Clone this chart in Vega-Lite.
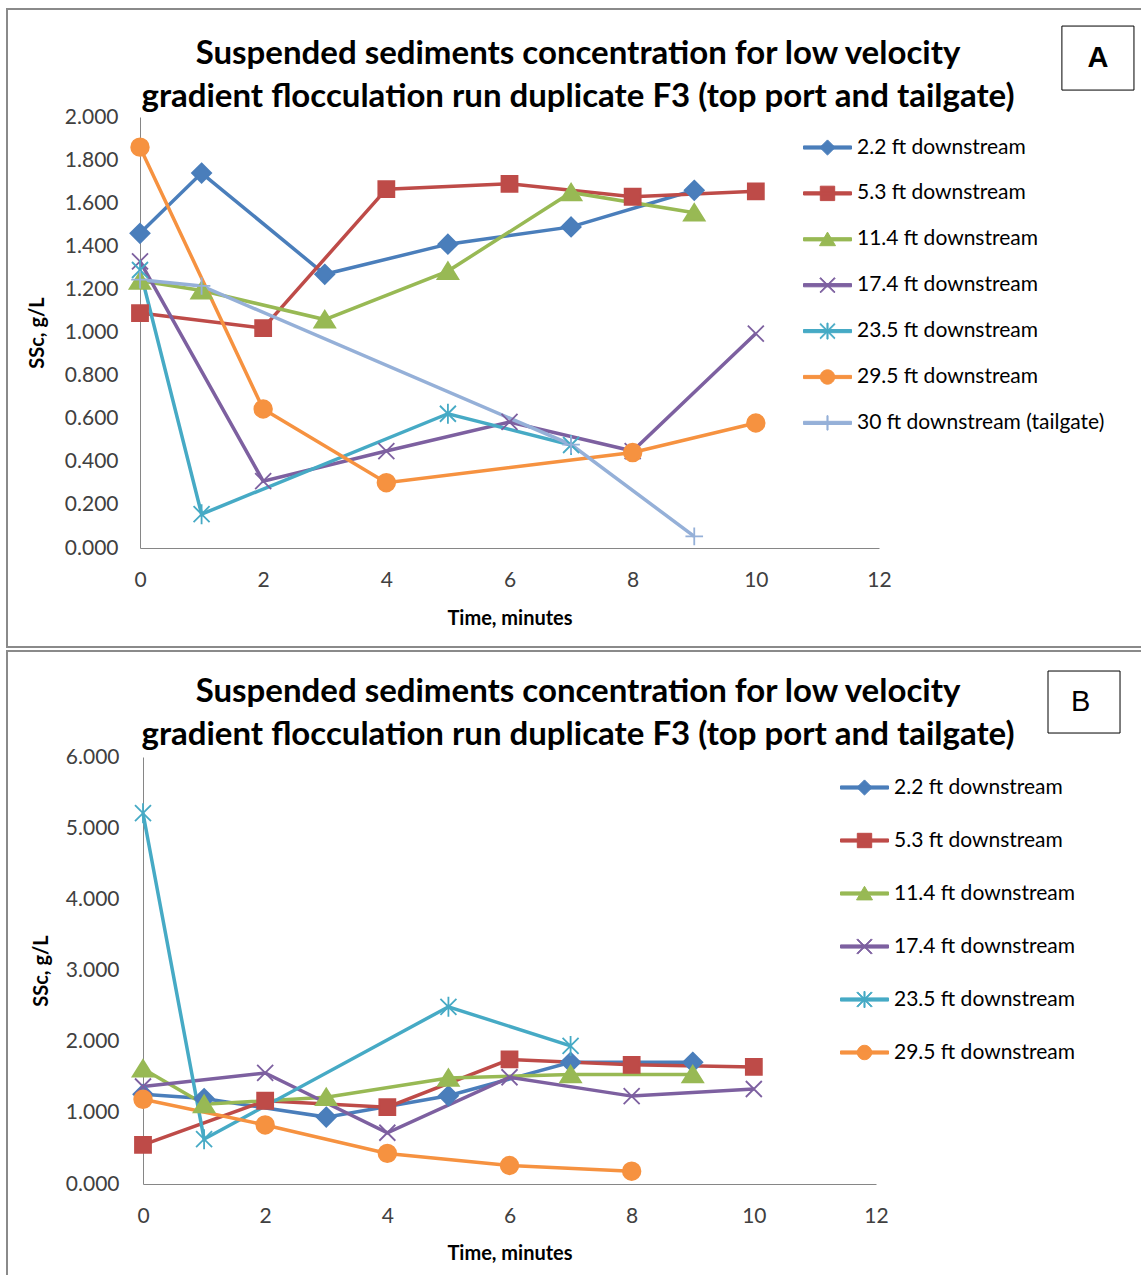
{
  "$schema": "https://vega.github.io/schema/vega-lite/v6.json",
  "background": "white",
  "padding": {"left": 6, "top": 8, "right": 0, "bottom": 0},
  "spacing": 2,
  "config": {
    "view": {"stroke": "#8a8a8a", "strokeWidth": 2},
    "font": "Lato"
  },
  "datasets": {
    "panelA": [
      {"series": "2.2 ft downstream", "time": 0, "ssc": 1.46},
      {"series": "2.2 ft downstream", "time": 1, "ssc": 1.74},
      {"series": "2.2 ft downstream", "time": 3, "ssc": 1.27},
      {"series": "2.2 ft downstream", "time": 5, "ssc": 1.41},
      {"series": "2.2 ft downstream", "time": 7, "ssc": 1.49},
      {"series": "2.2 ft downstream", "time": 9, "ssc": 1.66},
      {"series": "5.3 ft downstream", "time": 0, "ssc": 1.09},
      {"series": "5.3 ft downstream", "time": 2, "ssc": 1.02},
      {"series": "5.3 ft downstream", "time": 4, "ssc": 1.665},
      {"series": "5.3 ft downstream", "time": 6, "ssc": 1.69},
      {"series": "5.3 ft downstream", "time": 8, "ssc": 1.63},
      {"series": "5.3 ft downstream", "time": 10, "ssc": 1.655},
      {"series": "11.4 ft downstream", "time": 0, "ssc": 1.24},
      {"series": "11.4 ft downstream", "time": 1, "ssc": 1.195},
      {"series": "11.4 ft downstream", "time": 3, "ssc": 1.06},
      {"series": "11.4 ft downstream", "time": 5, "ssc": 1.285},
      {"series": "11.4 ft downstream", "time": 7, "ssc": 1.65},
      {"series": "11.4 ft downstream", "time": 9, "ssc": 1.556},
      {"series": "17.4 ft downstream", "time": 0, "ssc": 1.33},
      {"series": "17.4 ft downstream", "time": 2, "ssc": 0.31},
      {"series": "17.4 ft downstream", "time": 4, "ssc": 0.45},
      {"series": "17.4 ft downstream", "time": 6, "ssc": 0.585},
      {"series": "17.4 ft downstream", "time": 8, "ssc": 0.45},
      {"series": "17.4 ft downstream", "time": 10, "ssc": 0.995},
      {"series": "23.5 ft downstream", "time": 0, "ssc": 1.29},
      {"series": "23.5 ft downstream", "time": 1, "ssc": 0.157},
      {"series": "23.5 ft downstream", "time": 5, "ssc": 0.623},
      {"series": "23.5 ft downstream", "time": 7, "ssc": 0.478},
      {"series": "29.5 ft downstream", "time": 0, "ssc": 1.86},
      {"series": "29.5 ft downstream", "time": 2, "ssc": 0.645},
      {"series": "29.5 ft downstream", "time": 4, "ssc": 0.303},
      {"series": "29.5 ft downstream", "time": 8, "ssc": 0.443},
      {"series": "29.5 ft downstream", "time": 10, "ssc": 0.58},
      {"series": "30 ft downstream (tailgate)", "time": 0, "ssc": 1.245},
      {"series": "30 ft downstream (tailgate)", "time": 1, "ssc": 1.216},
      {"series": "30 ft downstream (tailgate)", "time": 7, "ssc": 0.48},
      {"series": "30 ft downstream (tailgate)", "time": 9, "ssc": 0.054}
    ],
    "panelB": [
      {"series": "2.2 ft downstream", "time": 0, "ssc": 1.26},
      {"series": "2.2 ft downstream", "time": 1, "ssc": 1.2},
      {"series": "2.2 ft downstream", "time": 3, "ssc": 0.94},
      {"series": "2.2 ft downstream", "time": 5, "ssc": 1.24},
      {"series": "2.2 ft downstream", "time": 7, "ssc": 1.71},
      {"series": "2.2 ft downstream", "time": 9, "ssc": 1.71},
      {"series": "5.3 ft downstream", "time": 0, "ssc": 0.55},
      {"series": "5.3 ft downstream", "time": 2, "ssc": 1.17},
      {"series": "5.3 ft downstream", "time": 4, "ssc": 1.08},
      {"series": "5.3 ft downstream", "time": 6, "ssc": 1.75},
      {"series": "5.3 ft downstream", "time": 8, "ssc": 1.675},
      {"series": "5.3 ft downstream", "time": 10, "ssc": 1.645},
      {"series": "11.4 ft downstream", "time": 0, "ssc": 1.62},
      {"series": "11.4 ft downstream", "time": 1, "ssc": 1.12},
      {"series": "11.4 ft downstream", "time": 3, "ssc": 1.22},
      {"series": "11.4 ft downstream", "time": 5, "ssc": 1.49},
      {"series": "11.4 ft downstream", "time": 7, "ssc": 1.54},
      {"series": "11.4 ft downstream", "time": 9, "ssc": 1.54},
      {"series": "17.4 ft downstream", "time": 0, "ssc": 1.37},
      {"series": "17.4 ft downstream", "time": 2, "ssc": 1.56},
      {"series": "17.4 ft downstream", "time": 4, "ssc": 0.72},
      {"series": "17.4 ft downstream", "time": 6, "ssc": 1.5},
      {"series": "17.4 ft downstream", "time": 8, "ssc": 1.235},
      {"series": "17.4 ft downstream", "time": 10, "ssc": 1.335},
      {"series": "23.5 ft downstream", "time": 0, "ssc": 5.21},
      {"series": "23.5 ft downstream", "time": 1, "ssc": 0.63},
      {"series": "23.5 ft downstream", "time": 5, "ssc": 2.49},
      {"series": "23.5 ft downstream", "time": 7, "ssc": 1.94},
      {"series": "29.5 ft downstream", "time": 0, "ssc": 1.19},
      {"series": "29.5 ft downstream", "time": 2, "ssc": 0.83},
      {"series": "29.5 ft downstream", "time": 4, "ssc": 0.43},
      {"series": "29.5 ft downstream", "time": 6, "ssc": 0.26},
      {"series": "29.5 ft downstream", "time": 8, "ssc": 0.18}
    ]
  },
  "resolve": {
    "scale": {"x": "independent", "y": "independent", "color": "independent", "shape": "independent"}
  },
  "vconcat": [
    {
      "width": 1136,
      "height": 638,
      "title": {
        "text": ["Suspended sediments concentration for low velocity", "gradient flocculation run duplicate F3 (top port and tailgate)"],
        "font": "Lato", "fontSize": 33, "fontWeight": "bold", "color": "#000000",
        "anchor": "middle", "frame": "group", "offset": -105, "lineHeight": 43, "dx": 3
      },
      "layer": [
        {
          "data": {"name": "panelA"},
          "encoding": {
            "x": {
              "field": "time", "type": "quantitative",
              "scale": {"domain": [0, 12], "range": [133, 872], "nice": false, "zero": false},
              "axis": {
                "values": [0, 2, 4, 6, 8, 10, 12], "format": "d", "title": "Time, minutes", "offset": -99,
                "domainColor": "#868686", "domainWidth": 1, "ticks": false, "grid": false,
                "labelFont": "Lato", "labelFontSize": 21, "labelColor": "#404040", "labelPadding": 21,
                "labelFlush": false, "labelOverlap": false,
                "titleFont": "Lato", "titleFontSize": 20, "titleFontWeight": "bold", "titleColor": "#000000", "titlePadding": 18
              }
            },
            "y": {
              "field": "ssc", "type": "quantitative",
              "scale": {"domain": [0, 2], "range": [539, 108], "nice": false, "zero": false},
              "axis": {
                "values": [0, 0.2, 0.4, 0.6, 0.8, 1, 1.2, 1.4, 1.6, 1.8, 2], "format": ".3f",
                "title": "SSc, g/L", "offset": -133,
                "domainColor": "#868686", "domainWidth": 1, "ticks": false, "grid": false,
                "labelFont": "Lato", "labelFontSize": 21, "labelColor": "#404040", "labelPadding": 22,
                "labelOverlap": false,
                "titleFont": "Lato", "titleFontSize": 20, "titleFontWeight": "bold", "titleColor": "#000000", "titlePadding": 17
              }
            }
          },
          "layer": [
            {
              "mark": {"type": "line", "strokeWidth": 3.5},
              "encoding": {
                "color": {
                  "field": "series", "type": "nominal",
                  "scale": {
                    "domain": ["2.2 ft downstream", "5.3 ft downstream", "11.4 ft downstream", "17.4 ft downstream", "23.5 ft downstream", "29.5 ft downstream", "30 ft downstream (tailgate)"],
                    "range": ["#4A7EBB", "#BE4B48", "#98B954", "#7D60A0", "#46AAC5", "#F69240", "#95B0D8"]
                  }
                }
              }
            },
            {
              "mark": {"type": "point", "filled": true, "opacity": 0, "size": 256},
              "encoding": {
                "color": {
                  "field": "series", "type": "nominal",
                  "scale": {
                    "domain": ["2.2 ft downstream", "5.3 ft downstream", "11.4 ft downstream", "17.4 ft downstream", "23.5 ft downstream", "29.5 ft downstream", "30 ft downstream (tailgate)"],
                    "range": ["#4A7EBB", "#BE4B48", "#98B954", "#7D60A0", "#46AAC5", "#F69240", "#95B0D8"]
                  },
                  "legend": {
                    "title": null, "orient": "none", "legendX": 810, "legendY": 128, "padding": 0,
                    "symbolSize": 256, "symbolStrokeWidth": 1, "symbolOpacity": 1, "symbolStrokeColor": "transparent",
                    "labelOffset": 19, "rowPadding": 23.9,
                    "labelFont": "Lato", "labelFontSize": 21, "labelColor": "#000000", "labelLimit": 400
                  }
                },
                "shape": {
                  "field": "series", "type": "nominal",
                  "scale": {
                    "domain": ["2.2 ft downstream", "5.3 ft downstream", "11.4 ft downstream", "17.4 ft downstream", "23.5 ft downstream", "29.5 ft downstream", "30 ft downstream (tailgate)"],
                    "range": [
                      "M-3,-0.2H3V0.2H-3ZM0,-0.95L0.95,0L0,0.95L-0.95,0Z",
                      "M-3,-0.2H3V0.2H-3ZM-0.9,-0.9H0.9V0.9H-0.9Z",
                      "M-3,-0.2H3V0.2H-3ZM0,-0.9L1,0.8L-1,0.8Z",
                      "M-3,-0.2H3V0.2H-3ZM-0.95,-0.85L-0.85,-0.95L0.95,0.85L0.85,0.95ZM-0.85,0.95L-0.95,0.85L0.85,-0.95L0.95,-0.85Z",
                      "M-3,-0.2H3V0.2H-3ZM-0.95,-0.85L-0.85,-0.95L0.95,0.85L0.85,0.95ZM-0.85,0.95L-0.95,0.85L0.85,-0.95L0.95,-0.85ZM-0.07,-1H0.07V1H-0.07Z",
                      "M-3,-0.2H3V0.2H-3ZM0.9,0A0.9,0.9,0,1,1,-0.9,0A0.9,0.9,0,1,1,0.9,0Z",
                      "M-3,-0.2H3V0.2H-3ZM-0.07,-0.9H0.07V0.9H-0.07Z"
                    ]
                  },
                  "legend": {
                    "title": null, "orient": "none", "legendX": 810, "legendY": 128, "padding": 0,
                    "symbolSize": 256, "symbolStrokeWidth": 1, "symbolOpacity": 1, "symbolStrokeColor": "transparent",
                    "labelOffset": 19, "rowPadding": 23.9,
                    "labelFont": "Lato", "labelFontSize": 21, "labelColor": "#000000", "labelLimit": 400
                  }
                }
              }
            },
            {
              "transform": [{"filter": {"field": "series", "equal": "2.2 ft downstream"}}],
              "mark": {"type": "point", "shape": "M0,-1.2L1.2,0L0,1.2L-1.2,0Z", "filled": true, "fill": "#4A7EBB", "stroke": "#4A7EBB", "strokeWidth": 1.8, "size": 256, "opacity": 1}
            },
            {
              "transform": [{"filter": {"field": "series", "equal": "5.3 ft downstream"}}],
              "mark": {"type": "point", "shape": "M-1,-1H1V1H-1Z", "filled": true, "fill": "#BE4B48", "stroke": "#BE4B48", "strokeWidth": 1.8, "size": 256, "opacity": 1}
            },
            {
              "transform": [{"filter": {"field": "series", "equal": "11.4 ft downstream"}}],
              "mark": {"type": "point", "shape": "M0,-1.1L1.3,1L-1.3,1Z", "filled": true, "fill": "#98B954", "stroke": "#98B954", "strokeWidth": 1.8, "size": 256, "opacity": 1}
            },
            {
              "transform": [{"filter": {"field": "series", "equal": "17.4 ft downstream"}}],
              "mark": {"type": "point", "shape": "M-1,-1L1,1M-1,1L1,-1", "filled": false, "stroke": "#7D60A0", "strokeWidth": 1.8, "size": 256, "opacity": 1}
            },
            {
              "transform": [{"filter": {"field": "series", "equal": "23.5 ft downstream"}}],
              "mark": {"type": "point", "shape": "M-1,-1L1,1M-1,1L1,-1M0,-1.25V1.25", "filled": false, "stroke": "#46AAC5", "strokeWidth": 1.8, "size": 256, "opacity": 1}
            },
            {
              "transform": [{"filter": {"field": "series", "equal": "29.5 ft downstream"}}],
              "mark": {"type": "point", "shape": "M1.1,0A1.1,1.1,0,1,1,-1.1,0A1.1,1.1,0,1,1,1.1,0Z", "filled": true, "fill": "#F69240", "stroke": "#F69240", "strokeWidth": 1.8, "size": 256, "opacity": 1}
            },
            {
              "transform": [{"filter": {"field": "series", "equal": "30 ft downstream (tailgate)"}}],
              "mark": {"type": "point", "shape": "M0,-1.1V1.1M-1.1,0H1.1", "filled": false, "stroke": "#95B0D8", "strokeWidth": 1.8, "size": 256, "opacity": 1}
            }
          ]
        },
        {
          "data": {"values": [{}]},
          "mark": {"type": "rect", "fill": "white", "stroke": "#000000", "strokeWidth": 1},
          "encoding": {
            "x": {"datum": 14.97, "type": "quantitative"},
            "x2": {"datum": 16.14},
            "y": {"datum": 2.422, "type": "quantitative"},
            "y2": {"datum": 2.125}
          }
        },
        {
          "data": {"values": [{}]},
          "mark": {"type": "text", "text": "A", "font": "Liberation Sans", "fontSize": 29, "fontWeight": "bold", "color": "#000000", "align": "center", "baseline": "middle"},
          "encoding": {
            "x": {"datum": 15.555, "type": "quantitative"},
            "y": {"datum": 2.274, "type": "quantitative"}
          }
        }
      ]
    },
    {
      "width": 1136,
      "height": 628,
      "title": {
        "text": ["Suspended sediments concentration for low velocity", "gradient flocculation run duplicate F3 (top port and tailgate)"],
        "font": "Lato", "fontSize": 33, "fontWeight": "bold", "color": "#000000",
        "anchor": "middle", "frame": "group", "offset": -101, "lineHeight": 43, "dx": 3
      },
      "layer": [
        {
          "data": {"name": "panelB"},
          "encoding": {
            "x": {
              "field": "time", "type": "quantitative",
              "scale": {"domain": [0, 12], "range": [136, 869], "nice": false, "zero": false},
              "axis": {
                "values": [0, 2, 4, 6, 8, 10, 12], "format": "d", "title": "Time, minutes", "offset": -95,
                "domainColor": "#868686", "domainWidth": 1, "ticks": false, "grid": false,
                "labelFont": "Lato", "labelFontSize": 21, "labelColor": "#404040", "labelPadding": 21,
                "labelFlush": false, "labelOverlap": false,
                "titleFont": "Lato", "titleFontSize": 20, "titleFontWeight": "bold", "titleColor": "#000000", "titlePadding": 17
              }
            },
            "y": {
              "field": "ssc", "type": "quantitative",
              "scale": {"domain": [0, 6], "range": [533, 106], "nice": false, "zero": false},
              "axis": {
                "values": [0, 1, 2, 3, 4, 5, 6], "format": ".3f",
                "title": "SSc, g/L", "offset": -136,
                "domainColor": "#868686", "domainWidth": 1, "ticks": false, "grid": false,
                "labelFont": "Lato", "labelFontSize": 21, "labelColor": "#404040", "labelPadding": 24,
                "labelOverlap": false,
                "titleFont": "Lato", "titleFontSize": 20, "titleFontWeight": "bold", "titleColor": "#000000", "titlePadding": 14
              }
            }
          },
          "layer": [
            {
              "mark": {"type": "line", "strokeWidth": 3.5},
              "encoding": {
                "color": {
                  "field": "series", "type": "nominal",
                  "scale": {
                    "domain": ["2.2 ft downstream", "5.3 ft downstream", "11.4 ft downstream", "17.4 ft downstream", "23.5 ft downstream", "29.5 ft downstream"],
                    "range": ["#4A7EBB", "#BE4B48", "#98B954", "#7D60A0", "#46AAC5", "#F69240"]
                  }
                }
              }
            },
            {
              "mark": {"type": "point", "filled": true, "opacity": 0, "size": 256},
              "encoding": {
                "color": {
                  "field": "series", "type": "nominal",
                  "scale": {
                    "domain": ["2.2 ft downstream", "5.3 ft downstream", "11.4 ft downstream", "17.4 ft downstream", "23.5 ft downstream", "29.5 ft downstream"],
                    "range": ["#4A7EBB", "#BE4B48", "#98B954", "#7D60A0", "#46AAC5", "#F69240"]
                  },
                  "legend": {
                    "title": null, "orient": "none", "legendX": 847, "legendY": 126, "padding": 0,
                    "symbolSize": 256, "symbolStrokeWidth": 1, "symbolOpacity": 1, "symbolStrokeColor": "transparent",
                    "labelOffset": 19, "rowPadding": 31,
                    "labelFont": "Lato", "labelFontSize": 21, "labelColor": "#000000", "labelLimit": 400
                  }
                },
                "shape": {
                  "field": "series", "type": "nominal",
                  "scale": {
                    "domain": ["2.2 ft downstream", "5.3 ft downstream", "11.4 ft downstream", "17.4 ft downstream", "23.5 ft downstream", "29.5 ft downstream"],
                    "range": [
                      "M-3,-0.2H3V0.2H-3ZM0,-0.95L0.95,0L0,0.95L-0.95,0Z",
                      "M-3,-0.2H3V0.2H-3ZM-0.9,-0.9H0.9V0.9H-0.9Z",
                      "M-3,-0.2H3V0.2H-3ZM0,-0.9L1,0.8L-1,0.8Z",
                      "M-3,-0.2H3V0.2H-3ZM-0.95,-0.85L-0.85,-0.95L0.95,0.85L0.85,0.95ZM-0.85,0.95L-0.95,0.85L0.85,-0.95L0.95,-0.85Z",
                      "M-3,-0.2H3V0.2H-3ZM-0.95,-0.85L-0.85,-0.95L0.95,0.85L0.85,0.95ZM-0.85,0.95L-0.95,0.85L0.85,-0.95L0.95,-0.85ZM-0.07,-1H0.07V1H-0.07Z",
                      "M-3,-0.2H3V0.2H-3ZM0.9,0A0.9,0.9,0,1,1,-0.9,0A0.9,0.9,0,1,1,0.9,0Z"
                    ]
                  },
                  "legend": {
                    "title": null, "orient": "none", "legendX": 847, "legendY": 126, "padding": 0,
                    "symbolSize": 256, "symbolStrokeWidth": 1, "symbolOpacity": 1, "symbolStrokeColor": "transparent",
                    "labelOffset": 19, "rowPadding": 31,
                    "labelFont": "Lato", "labelFontSize": 21, "labelColor": "#000000", "labelLimit": 400
                  }
                }
              }
            },
            {
              "transform": [{"filter": {"field": "series", "equal": "2.2 ft downstream"}}],
              "mark": {"type": "point", "shape": "M0,-1.2L1.2,0L0,1.2L-1.2,0Z", "filled": true, "fill": "#4A7EBB", "stroke": "#4A7EBB", "strokeWidth": 1.8, "size": 256, "opacity": 1}
            },
            {
              "transform": [{"filter": {"field": "series", "equal": "5.3 ft downstream"}}],
              "mark": {"type": "point", "shape": "M-1,-1H1V1H-1Z", "filled": true, "fill": "#BE4B48", "stroke": "#BE4B48", "strokeWidth": 1.8, "size": 256, "opacity": 1}
            },
            {
              "transform": [{"filter": {"field": "series", "equal": "11.4 ft downstream"}}],
              "mark": {"type": "point", "shape": "M0,-1.1L1.3,1L-1.3,1Z", "filled": true, "fill": "#98B954", "stroke": "#98B954", "strokeWidth": 1.8, "size": 256, "opacity": 1}
            },
            {
              "transform": [{"filter": {"field": "series", "equal": "17.4 ft downstream"}}],
              "mark": {"type": "point", "shape": "M-1,-1L1,1M-1,1L1,-1", "filled": false, "stroke": "#7D60A0", "strokeWidth": 1.8, "size": 256, "opacity": 1}
            },
            {
              "transform": [{"filter": {"field": "series", "equal": "23.5 ft downstream"}}],
              "mark": {"type": "point", "shape": "M-1,-1L1,1M-1,1L1,-1M0,-1.25V1.25", "filled": false, "stroke": "#46AAC5", "strokeWidth": 1.8, "size": 256, "opacity": 1}
            },
            {
              "transform": [{"filter": {"field": "series", "equal": "29.5 ft downstream"}}],
              "mark": {"type": "point", "shape": "M1.1,0A1.1,1.1,0,1,1,-1.1,0A1.1,1.1,0,1,1,1.1,0Z", "filled": true, "fill": "#F69240", "stroke": "#F69240", "strokeWidth": 1.8, "size": 256, "opacity": 1}
            }
          ]
        },
        {
          "data": {"values": [{}]},
          "mark": {"type": "rect", "fill": "white", "stroke": "#000000", "strokeWidth": 1},
          "encoding": {
            "x": {"datum": 14.816, "type": "quantitative"},
            "x2": {"datum": 15.995},
            "y": {"datum": 7.208, "type": "quantitative"},
            "y2": {"datum": 6.337}
          }
        },
        {
          "data": {"values": [{}]},
          "mark": {"type": "text", "text": "B", "font": "Liberation Sans", "fontSize": 29, "fontWeight": "normal", "color": "#000000", "align": "center", "baseline": "middle"},
          "encoding": {
            "x": {"datum": 15.35, "type": "quantitative"},
            "y": {"datum": 6.773, "type": "quantitative"}
          }
        }
      ]
    }
  ]
}
